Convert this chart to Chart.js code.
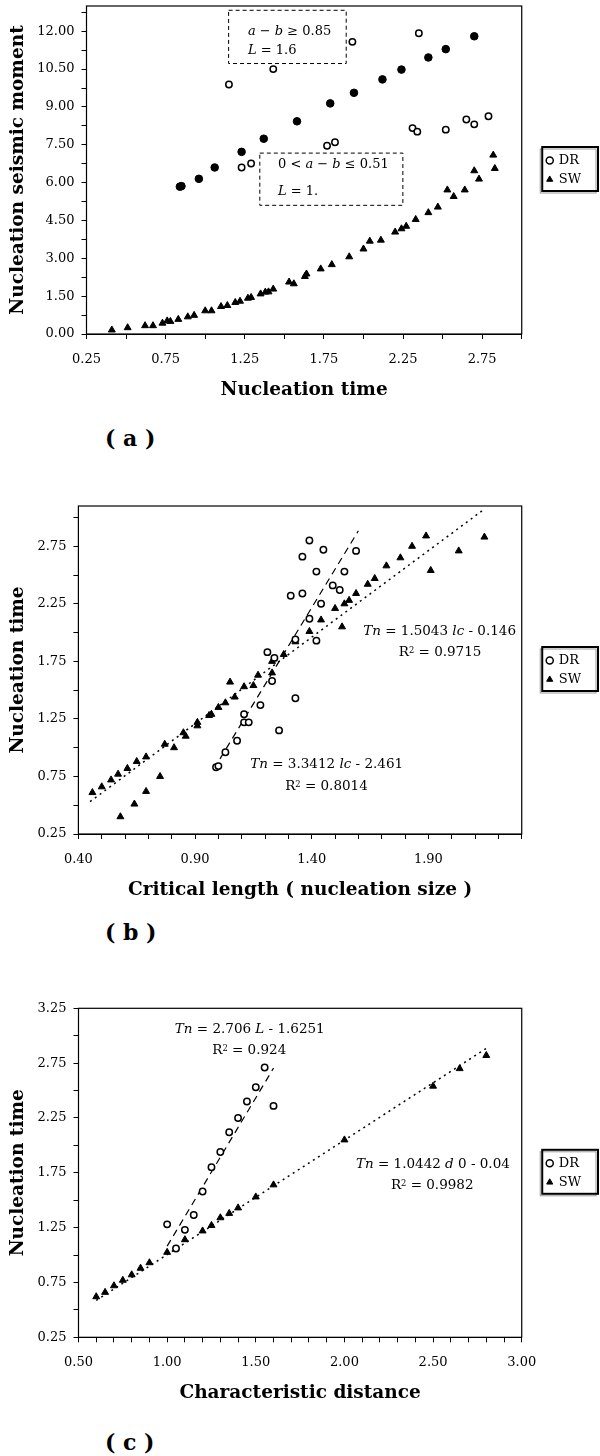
<!DOCTYPE html>
<html>
<head>
<meta charset="utf-8">
<title>Nucleation charts</title>
<script src="https://cdn.jsdelivr.net/npm/chart.js@4.4.0/dist/chart.umd.min.js"></script>
<style>
  body { margin: 0; background: #fff; }
  .page { position: relative; width: 600px; height: 1456px; }
  canvas { position: absolute; left: 0; }
  .tag { position: absolute; left: 105px; font: bold 22px "DejaVu Serif", serif; color: #000; line-height: 26px; white-space: pre; }
</style>
</head>
<body>
<div class="page">
  <canvas id="chartA" width="600" height="402" style="top:0"></canvas>
  <div class="tag" style="top:425px">( a )</div>
  <canvas id="chartB" width="600" height="432" style="top:470px"></canvas>
  <div class="tag" style="top:919px">( b )</div>
  <canvas id="chartC" width="600" height="415" style="top:990px"></canvas>
  <div class="tag" style="top:1429px">( c )</div>
</div>
<script>
const FONT = '"DejaVu Serif", serif';

// (a) nucleation seismic moment vs nucleation time
const aDrX = [1.15, 1.23, 1.29, 1.43, 1.77, 1.82, 1.93, 2.31, 2.34, 2.35, 2.52, 2.65, 2.70, 2.79];
const aDrY = [9.89, 6.60, 6.76, 10.50, 7.46, 7.60, 11.58, 8.16, 8.02, 11.92, 8.10, 8.50, 8.31, 8.63];
const aDr16X = [0.84, 0.85, 0.96, 1.06, 1.23, 1.37, 1.58, 1.79, 1.94, 2.12, 2.24, 2.41, 2.52, 2.70];
const aDr16Y = [5.84, 5.86, 6.15, 6.60, 7.22, 7.74, 8.43, 9.14, 9.56, 10.09, 10.48, 10.96, 11.29, 11.80];
const aSwX = [0.41, 0.51, 0.62, 0.67, 0.73, 0.76, 0.78, 0.83, 0.89, 0.93, 1.00, 1.04, 1.10, 1.14, 1.19,
  1.22, 1.27, 1.29, 1.35, 1.38, 1.40, 1.43, 1.53, 1.56, 1.63, 1.64, 1.73, 1.80, 1.91, 2.00,
  2.04, 2.11, 2.20, 2.24, 2.27, 2.33, 2.41, 2.47, 2.53, 2.57, 2.64, 2.70, 2.73, 2.82, 2.83];
const aSwY = [0.16, 0.25, 0.33, 0.33, 0.43, 0.52, 0.50, 0.58, 0.68, 0.74, 0.92, 0.92, 1.09, 1.13, 1.25,
  1.30, 1.42, 1.45, 1.59, 1.66, 1.67, 1.78, 2.06, 1.99, 2.28, 2.38, 2.58, 2.75, 3.06, 3.37,
  3.68, 3.72, 4.04, 4.17, 4.27, 4.54, 4.81, 5.03, 5.71, 5.45, 5.71, 6.47, 6.14, 7.09, 6.56];
const aXRange = [0.25, 3.0, 0.25];
const aYRange = [0, 13, 0.75];
const aXLabels = [0.25, 0.75, 1.25, 1.75, 2.25, 2.75];
const aYLabels = [0, 1.5, 3, 4.5, 6, 7.5, 9, 10.5, 12];

// (b) nucleation time vs critical length
const bDrX = [0.99, 1.00, 1.03, 1.08, 1.11, 1.11, 1.13, 1.18, 1.21, 1.23, 1.24, 1.26, 1.31, 1.33,
  1.33, 1.36, 1.36, 1.39, 1.39, 1.42, 1.42, 1.44, 1.45, 1.49, 1.52, 1.54, 1.59];
const bDrY = [0.83, 0.84, 0.96, 1.06, 1.29, 1.22, 1.22, 1.37, 1.83, 1.58, 1.78, 1.15, 2.32, 1.94,
  1.43, 2.66, 2.34, 2.80, 2.12, 2.53, 1.93, 2.25, 2.72, 2.41, 2.37, 2.53, 2.71];
const bSwX = [0.46, 0.50, 0.54, 0.57, 0.58, 0.61, 0.64, 0.65, 0.69, 0.69, 0.75, 0.77, 0.81, 0.85,
  0.86, 0.91, 0.91, 0.96, 0.97, 1.00, 1.03, 1.05, 1.07, 1.11, 1.15, 1.17, 1.23, 1.23, 1.28, 1.33,
  1.39, 1.44, 1.50, 1.53, 1.54, 1.56, 1.59, 1.64, 1.67, 1.72, 1.78, 1.83, 1.89, 1.91, 2.03, 2.14];
const bSwY = [0.61, 0.66, 0.72, 0.77, 0.40, 0.82, 0.51, 0.88, 0.92, 0.62, 0.75, 1.03, 1.00, 1.13,
  1.10, 1.22, 1.19, 1.28, 1.29, 1.35, 1.39, 1.57, 1.44, 1.53, 1.54, 1.63, 1.75, 1.65, 1.81, 1.92,
  2.01, 2.11, 2.21, 2.05, 2.25, 2.28, 2.34, 2.42, 2.47, 2.58, 2.65, 2.75, 2.84, 2.54, 2.71, 2.83];
const bDrFit = [3.3412, -2.461];
const bDrFitSpan = [0.98, 1.60];
const bSwFit = [1.5043, -0.146];
const bSwFitSpan = [0.45, 2.14];
const bXRange = [0.4, 2.3, 0.1];
const bYRange = [0.25, 3.1, 0.25];
const bXLabels = [0.4, 0.9, 1.4, 1.9];
const bYLabels = [0.25, 0.75, 1.25, 1.75, 2.25, 2.75];

// (c) nucleation time vs characteristic distance
const cDrX = [1.00, 1.05, 1.10, 1.15, 1.20, 1.25, 1.30, 1.35, 1.40, 1.45, 1.50, 1.55, 1.60];
const cDrY = [1.28, 1.06, 1.23, 1.365, 1.58, 1.80, 1.94, 2.12, 2.25, 2.40, 2.53, 2.71, 2.36];
const cSwX = [0.60, 0.65, 0.70, 0.75, 0.80, 0.85, 0.90, 1.00, 1.10, 1.20, 1.25, 1.30, 1.35, 1.40,
  1.50, 1.60, 2.00, 2.50, 2.65, 2.80];
const cSwY = [0.62, 0.66, 0.72, 0.77, 0.82, 0.88, 0.93, 1.025, 1.14, 1.22, 1.27, 1.34, 1.38, 1.43,
  1.53, 1.64, 2.05, 2.54, 2.70, 2.82];
const cDrFit = [2.706, -1.6251];
const cDrFitSpan = [1.0, 1.6];
const cSwFit = [1.0442, -0.04];
const cSwFitSpan = [0.6, 2.8];
const cXRange = [0.5, 3.0, 0.1];
const cYRange = [0.25, 3.25, 0.25];
const cXLabels = [0.5, 1.0, 1.5, 2.0, 2.5, 3.0];
const cYLabels = [0.25, 0.75, 1.25, 1.75, 2.25, 2.75, 3.25];

const pts = (xs, ys) => xs.map((x, i) => ({ x, y: ys[i] }));
const fitLine = ([m, c], [x0, x1]) => [x0, x1].map(x => ({ x, y: m * x + c }));
const hasLabel = (list, v) => list.some(t => Math.abs(t - v) < 1e-6);

const openCircle = { pointStyle: "circle", pointRadius: 3.2, pointBorderWidth: 1.5, pointBorderColor: "#000", pointBackgroundColor: "#fff" };
const dot = { pointStyle: "circle", pointRadius: 3.8, pointBorderWidth: 1, pointBorderColor: "#000", pointBackgroundColor: "#000" };
const triangle = { pointStyle: "triangle", pointRadius: 4, pointBorderWidth: 1, pointBorderColor: "#000", pointBackgroundColor: "#000" };
const dashed = { showLine: true, pointRadius: 0, borderColor: "#000", borderWidth: 1.2, borderDash: [7, 5], fill: false };
const dotted = { showLine: true, pointRadius: 0, borderColor: "#000", borderWidth: 1.5, borderDash: [2, 4], fill: false };

function drawRich(ctx, segs, x, y, align, size) {
  const fontOf = s => (s[1] === "i" ? "italic " : "") + (s[1] === "sup" ? size * 0.62 : size) + "px " + FONT;
  let w = 0;
  segs.forEach(s => { ctx.font = fontOf(s); w += ctx.measureText(s[0]).width; });
  let cx = align === "center" ? x - w / 2 : x;
  ctx.fillStyle = "#000";
  ctx.textAlign = "left";
  ctx.textBaseline = "middle";
  segs.forEach(s => {
    ctx.font = fontOf(s);
    ctx.fillText(s[0], cx, s[1] === "sup" ? y - size * 0.12 : y);
    cx += ctx.measureText(s[0]).width;
  });
}

// plot frame, dashed note boxes, equations and the legend border
const decor = {
  id: "decor",
  afterDraw(chart, args, opts) {
    const { ctx, chartArea: a, scales: { x, y } } = chart;
    ctx.save();
    ctx.strokeStyle = "#000";
    ctx.lineWidth = 1.2;
    ctx.strokeRect(a.left, a.top, a.width, a.height);

    ctx.lineWidth = 1;
    ctx.setLineDash([4, 3]);
    (opts.boxes || []).forEach(b => {
      const l = x.getPixelForValue(b[0]), t = y.getPixelForValue(b[1]);
      ctx.strokeRect(l, t, x.getPixelForValue(b[2]) - l, y.getPixelForValue(b[3]) - t);
    });
    ctx.setLineDash([]);

    (opts.notes || []).forEach(n => {
      drawRich(ctx, n.text, x.getPixelForValue(n.x), y.getPixelForValue(n.y), n.align || "center", n.size || 13.5);
    });

    const hb = chart.legend && chart.legend.legendHitBoxes;
    if (hb && hb.length) {
      const last = hb[hb.length - 1];
      const l = hb[0].left - 5, t = hb[0].top - 7;
      const r = chart.width - 2, b = last.top + last.height + 5;
      ctx.strokeStyle = "#999";
      ctx.lineWidth = 1;
      ctx.strokeRect(l - 2, t + 2, r - l, b - t);
      ctx.strokeStyle = "#000";
      ctx.lineWidth = 2;
      ctx.strokeRect(l, t, r - l, b - t);
    }
    ctx.restore();
  }
};

function axis(range, labels, title, extra) {
  return Object.assign({
    type: "linear",
    min: range[0],
    max: range[1],
    ticks: {
      stepSize: range[2], autoSkip: false, maxRotation: 0, includeBounds: false,
      color: "#000", font: { family: FONT, size: 13 },
      callback: v => hasLabel(labels, v) ? v.toFixed(2) : ""
    },
    grid: { drawOnChartArea: false, tickLength: 5, color: "#000" },
    border: { color: "#000" },
    title: { display: true, text: title, color: "#000", font: { family: FONT, size: 18.5, weight: "bold" } }
  }, extra);
}

function build(id, d) {
  const x = axis(d.xRange, d.xLabels, d.xTitle, {
    position: "bottom",
    afterFit: s => { s.height = d.axisH; s.paddingLeft = 0; s.paddingRight = 0; }
  });
  x.ticks.padding = 12.5;
  x.title.padding = { top: 0, bottom: 1 };
  const y = axis(d.yRange, d.yLabels, d.yTitle, {
    position: "left",
    afterFit: s => { s.width = d.left; s.paddingTop = 0; s.paddingBottom = 0; }
  });
  y.ticks.padding = 7;
  y.title.padding = { top: 7, bottom: 0 };

  return new Chart(document.getElementById(id), {
    type: "scatter",
    data: { datasets: d.datasets },
    options: {
      responsive: false,
      animation: false,
      events: [],
      layout: { padding: { top: d.top, left: 0, right: 9, bottom: 0 } },
      scales: {
        x,
        y,
        spacer: {
          type: "linear", position: "right", display: true,
          grid: { display: false }, border: { display: false }, ticks: { display: false },
          afterFit: s => { s.width = 19.5; }
        }
      },
      plugins: {
        legend: {
          position: "right",
          fullSize: false,
          labels: {
            usePointStyle: true, boxWidth: 5, boxHeight: 5, padding: 6, color: "#000",
            font: { family: FONT, size: 13 },
            filter: item => item.text === "DR" || item.text === "SW"
          }
        },
        tooltip: { enabled: false },
        decor: { boxes: d.boxes, notes: d.notes }
      }
    },
    plugins: [decor]
  });
}

build("chartA", {
  top: 6, left: 86.5, axisH: 68,
  xRange: aXRange, yRange: aYRange, xLabels: aXLabels, yLabels: aYLabels,
  xTitle: "Nucleation time", yTitle: "Nucleation seismic moment",
  datasets: [
    Object.assign({ label: "DR", data: pts(aDrX, aDrY) }, openCircle),
    Object.assign({ label: "DR (L = 1.6)", data: pts(aDr16X, aDr16Y) }, dot),
    Object.assign({ label: "SW", data: pts(aSwX, aSwY) }, triangle)
  ],
  boxes: [[1.148, 12.83, 1.891, 10.72], [1.345, 7.17, 2.249, 5.10]],
  notes: [
    { x: 1.27, y: 11.98, align: "left", size: 13, text: [["a", "i"], [" − "], ["b", "i"], [" ≥ 0.85"]] },
    { x: 1.27, y: 11.25, align: "left", size: 13, text: [["L", "i"], [" = 1.6"]] },
    { x: 1.46, y: 6.71, align: "left", size: 13, text: [["0 < "], ["a", "i"], [" − "], ["b", "i"], [" ≤ 0.51"]] },
    { x: 1.46, y: 5.66, align: "left", size: 13, text: [["L", "i"], [" = 1."]] }
  ]
});

build("chartB", {
  top: 36, left: 78.4, axisH: 68,
  xRange: bXRange, yRange: bYRange, xLabels: bXLabels, yLabels: bYLabels,
  xTitle: "Critical length ( nucleation size )", yTitle: "Nucleation time",
  datasets: [
    Object.assign({ label: "DR", data: pts(bDrX, bDrY) }, openCircle),
    Object.assign({ label: "SW", data: pts(bSwX, bSwY) }, triangle),
    Object.assign({ label: "DR fit", data: fitLine(bDrFit, bDrFitSpan) }, dashed),
    Object.assign({ label: "SW fit", data: fitLine(bSwFit, bSwFitSpan) }, dotted)
  ],
  notes: [
    { x: 1.948, y: 2.009, text: [["Tn", "i"], [" = 1.5043 "], ["lc", "i"], [" - 0.146"]] },
    { x: 1.95, y: 1.825, text: [["R"], ["2", "sup"], [" = 0.9715"]] },
    { x: 1.464, y: 0.858, text: [["Tn", "i"], [" = 3.3412 "], ["lc", "i"], [" - 2.461"]] },
    { x: 1.463, y: 0.662, text: [["R"], ["2", "sup"], [" = 0.8014"]] }
  ]
});

build("chartC", {
  top: 18.3, left: 78.5, axisH: 67.7,
  xRange: cXRange, yRange: cYRange, xLabels: cXLabels, yLabels: cYLabels,
  xTitle: "Characteristic distance", yTitle: "Nucleation time",
  datasets: [
    Object.assign({ label: "DR", data: pts(cDrX, cDrY) }, openCircle),
    Object.assign({ label: "SW", data: pts(cSwX, cSwY) }, triangle),
    Object.assign({ label: "DR fit", data: fitLine(cDrFit, cDrFitSpan) }, dashed),
    Object.assign({ label: "SW fit", data: fitLine(cSwFit, cSwFitSpan) }, dotted)
  ],
  notes: [
    { x: 1.466, y: 3.058, text: [["Tn", "i"], [" = 2.706 "], ["L", "i"], [" - 1.6251"]] },
    { x: 1.463, y: 2.863, text: [["R"], ["2", "sup"], [" = 0.924"]] },
    { x: 2.499, y: 1.827, text: [["Tn", "i"], [" = 1.0442 "], ["d", "i"], [" 0 - 0.04"]] },
    { x: 2.495, y: 1.638, text: [["R"], ["2", "sup"], [" = 0.9982"]] }
  ]
});
</script>
</body>
</html>
